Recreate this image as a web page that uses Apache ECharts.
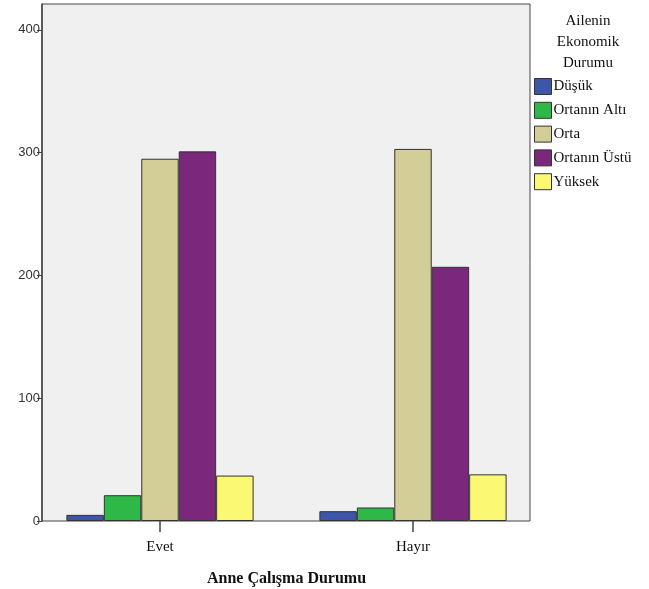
<!DOCTYPE html>
<html><head><meta charset="utf-8">
<script src="https://cdn.jsdelivr.net/npm/echarts@6/dist/echarts.min.js"></script>
<style>html,body{margin:0;padding:0;background:#fff}#c{width:649px;height:589px}</style>
</head><body><div id="c"></div>
<script>
const categories = ['Evet', 'Hayır'];
const seriesNames = ['Düşük', 'Ortanın Altı', 'Orta', 'Ortanın Üstü', 'Yüksek'];
const dusuk = [5, 8];
const ortaninAlti = [21, 11];
const orta = [295, 303];
const ortaninUstu = [301, 207];
const yuksek = [37, 38];
const colors = ['#3d56aa', '#2eb848', '#d3ce97', '#7b277c', '#fbf873'];
const yTicks = [0, 100, 200, 300, 400];

const values = [dusuk, ortaninAlti, orta, ortaninUstu, yuksek];
const chart = echarts.init(document.getElementById('c'));
const YMAX = 421;
chart.setOption({
  animation: false,
  backgroundColor: '#fff',
  grid: [
    { left: 42, right: 119, top: 4, bottom: 68, show: true, backgroundColor: '#f0f0f0', borderColor: '#444', borderWidth: 1, outerBoundsMode: 'none', containLabel: false },
    { left: 33.5, right: 109.5, top: 4, bottom: 68, show: false, outerBoundsMode: 'none', containLabel: false }
  ],
  legend: {
    data: seriesNames, orient: 'vertical', left: 534, top: 78, padding: 0,
    itemWidth: 17, itemHeight: 16, itemGap: 6.8, icon: 'rect',
    textStyle: { fontFamily: 'Liberation Serif', fontSize: 15, color: '#111', padding: [0,0,0,-3] },
    itemStyle: { borderColor: '#333', borderWidth: 1 }
  },
  graphic: [{
    type: 'text', x: 588, y: 11,
    style: { text: 'Ailenin\nEkonomik\nDurumu', fill: '#111', font: '15px "Liberation Serif"', align: 'center', verticalAlign: 'top', lineHeight: 21 }
  }],
  xAxis: [
    { type: 'category', gridIndex: 0, data: categories, show: false },
    {
      type: 'category', gridIndex: 1, data: categories,
      name: 'Anne Çalışma Durumu', nameLocation: 'middle', nameGap: 50,
      nameTextStyle: { fontFamily: 'Liberation Serif', fontSize: 16, fontWeight: 'bold', color: '#111' },
      axisLine: { show: false },
      axisTick: { show: true, alignWithLabel: true, length: 11, lineStyle: { color: '#444', width: 1.5 } },
      axisLabel: { fontFamily: 'Liberation Serif', fontSize: 15, color: '#111', margin: 19 }
    }
  ],
  yAxis: [
    {
      type: 'value', gridIndex: 0, min: 0, max: YMAX, interval: 100,
      axisLine: { show: true, lineStyle: { color: '#444', width: 1.5 } },
      axisTick: { show: true, length: 5, lineStyle: { color: '#444' }, customValues: yTicks },
      splitLine: { show: false },
      axisLabel: { fontFamily: 'Liberation Sans', fontSize: 13, color: '#333', margin: 2, customValues: yTicks }
    },
    { type: 'value', gridIndex: 1, min: 0, max: YMAX, show: false, splitLine: { show: false } }
  ],
  series: seriesNames.map((n, i) => ({
    name: n, type: 'bar', data: values[i], xAxisIndex: 1, yAxisIndex: 1,
    barGap: '0%', barCategoryGap: '26%',
    itemStyle: { color: colors[i], borderColor: '#333', borderWidth: 1 }
  }))
});
</script></body></html>
